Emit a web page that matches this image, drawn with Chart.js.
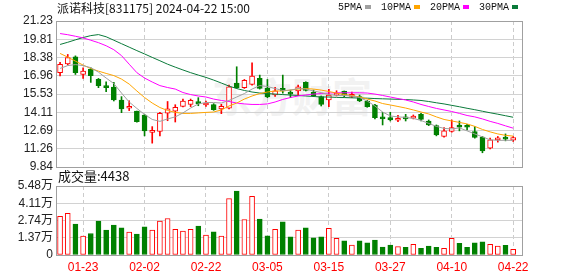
<!DOCTYPE html>
<html><head><meta charset="utf-8">
<script src="https://cdn.jsdelivr.net/npm/chart.js@4.4.1/dist/chart.umd.min.js"></script>
<style>
html,body{margin:0;padding:0;background:#fff;}
#wrap{position:relative;width:578px;height:276px;overflow:hidden;}
canvas{position:absolute;left:0;top:0;}
.t{position:absolute;white-space:nowrap;color:#111;}
.sq{display:inline-block;width:6px;height:4px;margin:0 10px 1px 3px;vertical-align:middle;}
</style></head><body>
<div id="wrap">
<div class="t" style="left:212px;top:66px;font:bold 40px 'Noto Sans CJK SC';color:#f2f2f2;">东方财富</div>
<canvas id="pc" width="578" height="276"></canvas>
<canvas id="vc" width="578" height="276"></canvas>
<div class="t" id="title" style="left:57px;top:0px;font:12px 'Noto Sans CJK SC';line-height:16px;"></div>
<div class="t" id="leg" style="left:338px;top:1px;font:10px 'Liberation Mono';line-height:14px;"></div>
<div class="t" id="vtitle" style="left:58px;top:167px;font:13px 'Noto Sans CJK SC';line-height:18px;"></div>
</div>
<script>
const stockTitle = '派诺科技[831175] 2024-04-22 15:00';
const dates = ['01-18','01-19','01-22','01-23','01-24','01-25','01-26','01-29','01-30','01-31',
'02-01','02-02','02-05','02-06','02-07','02-08','02-19','02-20','02-21','02-22',
'02-23','02-26','02-27','02-28','02-29','03-01','03-04','03-05','03-06','03-07',
'03-08','03-11','03-12','03-13','03-14','03-15','03-18','03-19','03-20','03-21',
'03-22','03-25','03-26','03-27','03-28','03-29','04-01','04-02','04-03','04-08',
'04-09','04-10','04-11','04-12','04-15','04-16','04-17','04-18','04-19','04-22'];
const dateTickIdx = [3,11,19,27,35,43,51,59];

const openP = [17.20,17.89,18.43,17.06,17.48,16.67,16.10,16.08,15.07,14.42,
14.21,13.90,12.53,12.61,14.03,14.20,14.57,14.73,14.89,14.68,
14.70,14.37,14.42,16.39,16.03,16.28,16.75,16.00,15.46,15.97,
15.64,15.77,16.44,15.69,15.33,15.07,15.45,15.77,15.35,15.33,
14.99,14.68,13.69,13.69,13.49,13.69,13.64,13.95,13.43,13.07,
12.22,12.61,13.12,12.99,12.61,12.17,11.31,11.96,12.09,11.93];
const closeP = [17.85,18.38,17.19,17.32,16.96,16.18,16.03,15.07,14.37,14.57,
13.38,12.66,12.71,14.03,14.38,14.50,14.99,15.04,14.78,14.78,
14.31,14.57,16.10,16.03,16.60,16.93,15.97,15.30,15.79,15.77,
15.53,16.10,15.82,15.40,14.73,15.45,15.58,15.45,15.51,14.99,
14.55,13.69,13.59,13.51,13.64,13.59,13.82,13.56,13.12,12.35,
12.66,12.91,12.94,12.94,12.14,11.10,11.96,12.04,12.01,12.14];
const highP = [18.00,18.62,18.51,17.58,17.58,16.75,16.49,16.44,15.33,15.01,
14.21,13.95,12.99,14.11,14.95,14.70,15.14,15.14,15.25,14.99,
14.78,14.73,16.23,17.66,16.67,17.97,17.01,16.67,16.05,17.01,
15.84,16.23,16.49,15.84,15.38,15.90,15.79,15.77,15.69,15.45,
15.04,14.73,14.11,14.11,13.87,13.95,13.90,14.03,13.51,13.12,
12.91,13.51,13.43,13.17,12.99,12.22,12.09,12.22,12.42,12.22];
const lowP = [16.95,17.79,17.06,16.75,16.44,16.03,15.71,14.99,14.08,14.24,
13.33,12.27,11.70,12.27,13.45,13.35,14.52,14.55,14.62,14.57,
14.26,14.00,14.37,15.97,15.97,16.23,15.92,15.25,15.35,15.60,
15.25,15.40,15.77,15.33,14.60,14.55,15.38,15.30,15.25,14.94,
14.50,13.59,13.12,13.43,13.38,13.43,13.59,13.43,13.07,12.27,
12.17,12.55,12.66,12.74,12.09,10.95,11.26,11.78,11.88,11.83];

const ma5 = [17.53,17.75,17.83,17.75,17.59,17.24,16.78,16.35,15.61,14.91,
14.41,13.94,13.55,13.40,13.59,13.75,14.06,14.44,14.76,14.87,
14.87,14.83,15.03,15.30,15.57,15.92,16.19,16.12,15.96,15.81,
15.84,15.96,15.92,15.77,15.65,15.49,15.42,15.42,15.38,15.26,
14.99,14.60,14.13,13.82,13.75,13.71,13.63,13.47,13.24,13.01,
12.85,12.81,12.89,12.66,12.42,12.19,11.96,11.92,11.92,11.92];
const ma10 = [18.70,18.41,18.10,17.79,17.52,17.32,17.14,16.97,16.70,16.31,
15.77,15.26,14.83,14.48,14.25,14.10,14.02,14.02,14.06,14.10,
14.13,14.29,14.60,14.83,15.14,15.38,15.57,15.69,15.77,15.77,
15.84,15.92,15.96,15.92,15.84,15.73,15.61,15.49,15.42,15.30,
15.14,14.99,14.79,14.68,14.56,14.44,14.29,14.13,13.98,13.75,
13.55,13.43,13.32,13.20,13.01,12.77,12.58,12.42,12.31,12.25];
const ma20 = [20.25,20.16,20.04,19.91,19.73,19.54,19.30,18.99,18.53,17.86,
17.20,16.78,16.47,16.19,16.04,15.92,15.65,15.49,15.38,15.30,
15.14,15.03,14.95,14.83,14.76,14.72,14.72,14.76,14.91,15.11,
15.26,15.38,15.46,15.53,15.57,15.61,15.63,15.63,15.63,15.63,
15.61,15.53,15.42,15.30,15.18,15.07,14.91,14.72,14.56,14.41,
14.29,14.17,14.02,13.86,13.75,13.59,13.40,13.24,13.05,12.87];
const ma30 = [19.40,19.57,19.76,19.94,20.09,20.17,20.00,19.73,19.46,19.19,
18.92,18.66,18.39,18.13,17.86,17.63,17.41,17.20,17.01,16.83,
16.62,16.39,16.15,15.96,15.81,15.69,15.61,15.57,15.53,15.49,
15.45,15.42,15.38,15.34,15.30,15.30,15.27,15.26,15.24,15.22,
15.21,15.18,15.16,15.14,15.12,15.10,15.07,15.03,14.95,14.85,
14.76,14.65,14.54,14.42,14.31,14.19,14.07,13.96,13.84,13.72];

const volume = [30800,33000,24500,15000,17100,26900,19800,23700,21600,18200,
16600,22400,19800,26900,29000,20300,19000,20300,22900,15800,
18400,15000,44800,50800,28200,46600,28500,15300,20300,26300,
14500,19800,21600,13700,14500,21100,13200,11300,7900,11300,
9700,11900,6300,7900,6600,6100,8400,5300,7100,6100,
5300,13200,9200,6100,9700,10500,8400,7100,7700,4438];

const priceTicks = [9.84,11.26,12.69,14.11,15.53,16.96,18.38,19.81,21.23];
const volTicks = [0,13700,27400,41100,54800];
const volTickLabels = ['0','1.37万','2.74万','4.11万','5.48万'];
const maNames = ['5PMA','10PMA','20PMA','30PMA'];
const maColors = ['#a0a0a0','#ffa500','#ff00ff','#0a7a3a'];

const RED = '#ff0000', GREEN = '#008000';
const X_MIN = -0.53, X_MAX = 60.15;
const up = closeP.map((c,i) => c >= openP[i]);

document.getElementById('title').textContent = stockTitle;
document.getElementById('vtitle').textContent = '成交量:' + volume[volume.length-1];
document.getElementById('leg').innerHTML = maNames.map((n,k) =>
  n + '<span class="sq" style="background:' + maColors[k] + '"></span>').join('');

const frame = { id:'frame', afterDraw(c){
  const a = c.chartArea, ctx = c.ctx;
  ctx.save(); ctx.strokeStyle = '#a0a0a0'; ctx.lineWidth = 1;
  const l = Math.round(a.left)+0.5, t = Math.round(a.top)+0.5;
  ctx.strokeRect(l, t, Math.round(a.right)-Math.round(a.left), Math.round(a.bottom)-Math.round(a.top));
  ctx.restore();
}};

function xScale(show){
  return { type:'linear', min:X_MIN, max:X_MAX, offset:false,
    afterBuildTicks: s => { s.ticks = dateTickIdx.map(v => ({value:v})); },
    afterFit: s => { s.height = show ? 21 : 0; },
    grid: { color:'#cccccc', lineWidth:1, drawTicks:false, offset:false },
    border: { display:false, dash:[4,3] },
    ticks: { display:show, autoSkip:false, maxRotation:0, padding:5, color:RED,
      font:{family:'Liberation Sans', size:12}, callback: v => dates[v] } };
}
const tickFont = {family:'Liberation Sans', size:12};

const priceDatasets = maNames.map((n,k) => ({
  type:'line', label:n, data:[ma5,ma10,ma20,ma30][k].map((v,i) => ({x:i,y:v})),
  borderColor:maColors[k], borderWidth:1, pointRadius:0, tension:0, order:0
}));
priceDatasets.push({
  type:'bar', label:'body', data:openP.map((o,i) => ({x:i, y:[o, closeP[i]]})),
  backgroundColor: up.map(u => u ? '#ffffff' : GREEN),
  borderColor: up.map(u => u ? RED : GREEN),
  borderWidth:1, borderSkipped:false, barThickness:5, minBarLength:2, grouped:false, order:1
});
priceDatasets.push({
  type:'bar', label:'wick', data:lowP.map((l,i) => ({x:i, y:[l, highP[i]]})),
  backgroundColor: up.map(u => u ? RED : GREEN),
  borderWidth:0, barThickness:1, grouped:false, order:2
});

new Chart(document.getElementById('pc'), {
  type:'bar',
  data:{ datasets: priceDatasets },
  options:{ responsive:false, animation:false, devicePixelRatio:1,
    layout:{ padding:{ left:0, right:56, top:21, bottom:109 } },
    plugins:{ legend:{display:false}, tooltip:{enabled:false} },
    scales:{
      x: xScale(false),
      y: { type:'linear', min:priceTicks[0], max:priceTicks[priceTicks.length-1],
        afterFit: s => { s.width = 56; },
        afterBuildTicks: s => { s.ticks = priceTicks.map(v => ({value:v})); },
        grid:{ color:'#d2d2d2', drawTicks:false }, border:{display:false},
        ticks:{ autoSkip:false, padding:3, color:'#222', font:tickFont, callback: v => v.toFixed(2) } }
    } },
  plugins:[frame]
});

new Chart(document.getElementById('vc'), {
  type:'bar',
  data:{ datasets:[{ label:'成交量', data:volume.map((v,i) => ({x:i,y:v})),
    backgroundColor: up.map(u => u ? '#ffffff' : GREEN),
    borderColor: up.map(u => u ? RED : GREEN),
    borderWidth:1, borderSkipped:false, barThickness:5 }] },
  options:{ responsive:false, animation:false, devicePixelRatio:1,
    layout:{ padding:{ left:0, right:56, top:186, bottom:0 } },
    plugins:{ legend:{display:false}, tooltip:{enabled:false} },
    scales:{
      x: xScale(true),
      y: { type:'linear', min:volTicks[0], max:volTicks[volTicks.length-1],
        afterFit: s => { s.width = 56; },
        afterBuildTicks: s => { s.ticks = volTicks.map(v => ({value:v})); },
        grid:{ color:'#d2d2d2', drawTicks:false }, border:{display:false},
        ticks:{ autoSkip:false, padding:3, color:'#222', font:{family:"'Liberation Sans','Noto Sans CJK SC'", size:12},
          callback: (v,i) => volTickLabels[i] } }
    } },
  plugins:[frame]
});
</script>
</body></html>
